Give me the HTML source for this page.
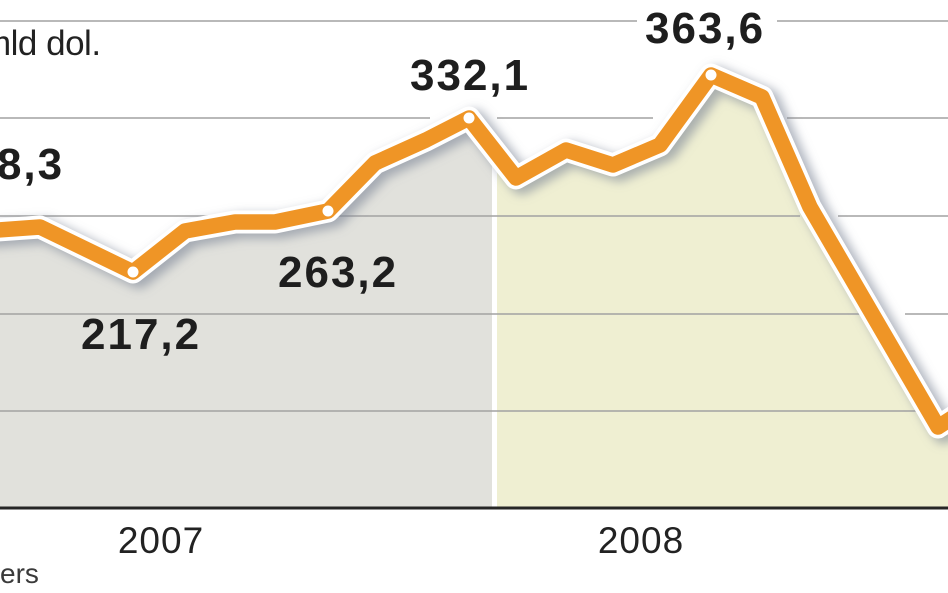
<!DOCTYPE html>
<html>
<head>
<meta charset="utf-8">
<style>
html,body{margin:0;padding:0;background:#fff;}
svg{display:block;}
</style>
</head>
<body>
<svg width="948" height="593" viewBox="0 0 948 593" xmlns="http://www.w3.org/2000/svg">
<defs>
<clipPath id="cg"><rect x="0" y="0" width="492" height="508"/></clipPath>
<clipPath id="cy"><rect x="497" y="0" width="451" height="508"/></clipPath>
<filter id="sh" x="-20%" y="-20%" width="140%" height="140%"><feGaussianBlur stdDeviation="5"/></filter>
</defs>
<rect x="0" y="0" width="948" height="593" fill="#ffffff"/>

<path clip-path="url(#cg)" fill="#e1e1dc" d="M-30,232 L40,227 L133,272 L185,231 L235,222 L275,222 L328,211 L375,163 L426,140 L469,118 L516,178 L566,150 L613,165 L660,145 L711,75 L762,97 L810,207 L938,427 L980,400 L980,508 L-30,508 Z"/>
<path clip-path="url(#cy)" fill="#efefd2" d="M-30,232 L40,227 L133,272 L185,231 L235,222 L275,222 L328,211 L375,163 L426,140 L469,118 L516,178 L566,150 L613,165 L660,145 L711,75 L762,97 L810,207 L938,427 L980,400 L980,508 L-30,508 Z"/>

<g stroke="#a2a2a2" stroke-width="1.6" fill="none">
<line x1="0" y1="21" x2="637" y2="21"/>
<line x1="777" y1="21" x2="948" y2="21"/>
<line x1="0" y1="118" x2="430" y2="118"/>
<line x1="497" y1="118" x2="653" y2="118"/>
<line x1="787" y1="118" x2="948" y2="118"/>
<line x1="0" y1="216" x2="800" y2="216"/>
<line x1="838" y1="216" x2="948" y2="216"/>
<line x1="0" y1="314" x2="860" y2="314"/>
<line x1="905" y1="314" x2="948" y2="314"/>
<line x1="0" y1="411" x2="918" y2="411"/>
</g>
<line x1="0" y1="508" x2="948" y2="508" stroke="#262626" stroke-width="3"/>

<path transform="translate(6,4)" filter="url(#sh)" fill="none" stroke="#7d8696" stroke-opacity="0.6" stroke-width="25" stroke-linejoin="round" d="M-30,232 L40,227 L133,272 L185,231 L235,222 L275,222 L328,211 L375,163 L426,140 L469,118 L516,178 L566,150 L613,165 L660,145 L711,75 L762,97 L810,207 L938,427 L980,400"/>
<path fill="none" stroke="#ffffff" stroke-width="23" stroke-linejoin="round" d="M-30,232 L40,227 L133,272 L185,231 L235,222 L275,222 L328,211 L375,163 L426,140 L469,118 L516,178 L566,150 L613,165 L660,145 L711,75 L762,97 L810,207 L938,427 L980,400"/>
<path fill="none" stroke="#ef9526" stroke-width="15.5" stroke-linejoin="round" d="M-30,232 L40,227 L133,272 L185,231 L235,222 L275,222 L328,211 L375,163 L426,140 L469,118 L516,178 L566,150 L613,165 L660,145 L711,75 L762,97 L810,207 L938,427 L980,400"/>

<g fill="#ffffff">
<circle cx="133" cy="272" r="5.5"/>
<circle cx="328" cy="211" r="5.5"/>
<circle cx="469" cy="118" r="5.5"/>
<circle cx="711" cy="75" r="5.5"/>
</g>

<g font-family="Liberation Sans, Arial, sans-serif">
<text x="-18" y="55" font-size="35" fill="#222" letter-spacing="-0.5">mld dol.</text>
<g font-weight="bold" font-size="44" fill="#1e1e1e" letter-spacing="2">
<text x="-56" y="179">248,3</text>
<text x="81" y="349">217,2</text>
<text x="278" y="287">263,2</text>
<text x="410" y="90">332,1</text>
<text x="645" y="43">363,6</text>
</g>
<text x="161" y="553" font-size="37" fill="#222" text-anchor="middle" letter-spacing="1">2007</text>
<text x="641" y="553" font-size="37" fill="#222" text-anchor="middle" letter-spacing="1">2008</text>
<text x="0" y="583" font-size="28" fill="#3a3a3a">ers</text>
</g>
</svg>
</body>
</html>
